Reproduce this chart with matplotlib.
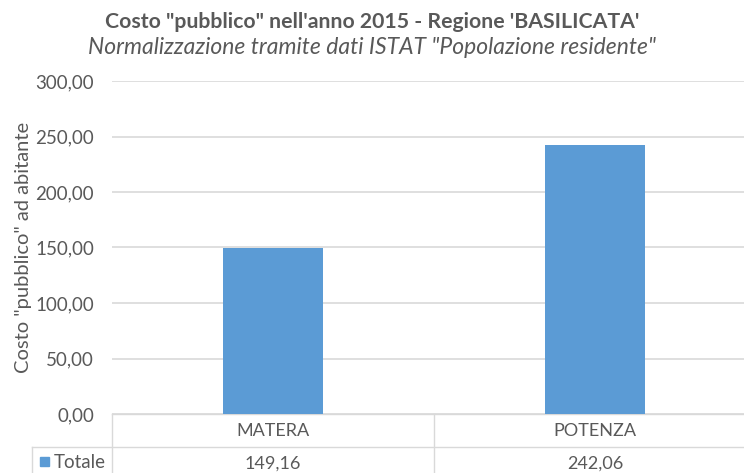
import matplotlib.pyplot as plt
from matplotlib.patches import Rectangle

plt.rcParams['font.family'] = ['Lato', 'DejaVu Sans']

categories = ['MATERA', 'POTENZA']
values = [149.16, 242.06]
series_name = 'Totale'
yticks = [0, 50, 100, 150, 200, 250, 300]

title = 'Costo "pubblico" nell\'anno 2015 - Regione \'BASILICATA\''
subtitle = 'Normalizzazione tramite dati ISTAT "Popolazione residente"'
ylabel = 'Costo "pubblico" ad abitante'

TXT = '#595959'
BAR = '#5B9BD5'
GRID = '#D9D9D9'


def fmt(v):
    return f'{v:.2f}'.replace('.', ',')


fig = plt.figure(figsize=(7.44, 4.73), dpi=100)
W, H = 744, 473
ax = fig.add_axes([112 / W, (H - 414) / H, 644 / W, 333 / H])

x = list(range(len(categories)))
ax.bar(x, values, width=0.31, color=BAR, zorder=3)
ax.set_xlim(-0.5, len(categories) - 0.5)
ax.set_ylim(0, 300)
ax.set_yticks(yticks)
ax.set_yticklabels([fmt(t) for t in yticks], color=TXT, fontsize=13.5)
ax.tick_params(axis='y', length=0, pad=13)
ax.set_xticks([])
ax.grid(axis='y', color=GRID, linewidth=1.2, zorder=0)
for s in ax.spines.values():
    s.set_visible(False)
ax.set_ylabel(ylabel, color=TXT, fontsize=14.5, labelpad=2)

# data table below the plot
tr = ax.get_xaxis_transform()
r1 = -33 / 333
r2 = -66 / 333
lw = 1.0
ax.plot([-0.5, 1.5], [0, 0], color=GRID, lw=lw, transform=tr, clip_on=False)
ax.plot([-0.5, -0.5], [0, r2], color=GRID, lw=lw, transform=tr, clip_on=False)
xl = -0.5 - (112 - 32) / 322
ax.plot([xl, 1.5], [r1, r1], color=GRID, lw=lw, transform=tr, clip_on=False)
ax.plot([xl, xl], [r1, r2], color=GRID, lw=lw, transform=tr, clip_on=False)
for i in range(1, len(categories)):
    ax.plot([i - 0.5, i - 0.5], [0, r2], color=GRID, lw=lw, transform=tr, clip_on=False)
for i, (c, v) in enumerate(zip(categories, values)):
    ax.text(i, r1 / 2, c, transform=tr, ha='center', va='center', color=TXT, fontsize=13)
    ax.text(i, (r1 + r2) / 2, fmt(v), transform=tr, ha='center', va='center', color=TXT, fontsize=13)

fig.patches.append(Rectangle((40 / W, (H - 466) / H), 9 / W, 9 / H, color=BAR,
                             transform=fig.transFigure))
fig.text(54 / W, (H - 462) / H, series_name, ha='left', va='center', color=TXT, fontsize=13.5)

fig.text(0.5, (H - 22) / H, title, ha='center', va='center', color=TXT,
         fontsize=15.3, fontweight='bold')
fig.text(0.5, (H - 47) / H, subtitle, ha='center', va='center', color=TXT,
         fontsize=16.5, style='italic')

fig.savefig('out.png', dpi=100)
